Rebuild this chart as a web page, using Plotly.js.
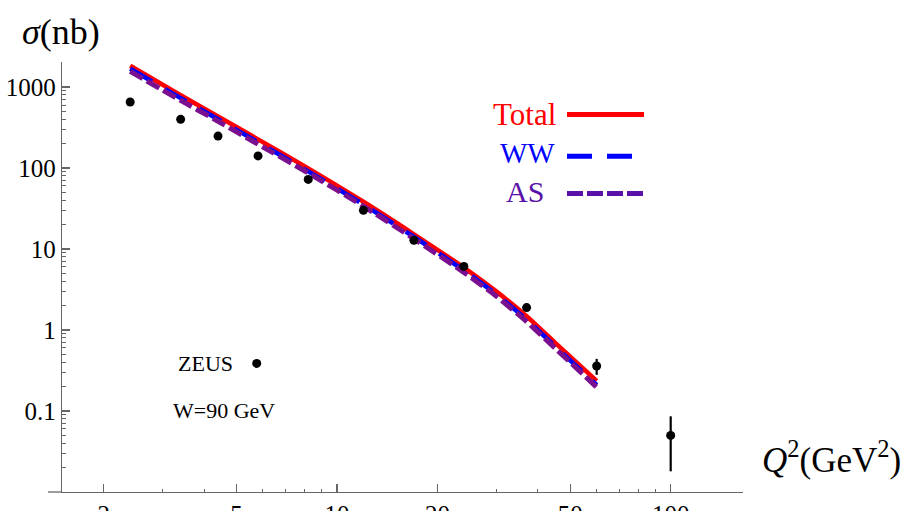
<!DOCTYPE html>
<html>
<head>
<meta charset="utf-8">
<script src="https://cdn.plot.ly/plotly-3.0.1.min.js"></script>
<style>html,body{margin:0;padding:0;background:#fff;}#chart{width:908px;height:511px;}</style>
</head>
<body>
<div id="chart"></div>
<script>
// ZEUS data, W = 90 GeV
const zeusQ2 = [2.4, 3.4, 4.4, 5.8, 8.2, 12, 17, 24, 37, 60, 100];
const zeusSigma = [653, 399, 248, 141, 72.4, 30.0, 12.8, 6.1, 1.89, 0.36, 0.050];
const zeusErrPlus = [20, 12, 8, 5, 2.5, 1, 0.5, 0.3, 0.15, 0.08, 0.036];
const zeusErrMinus = [20, 12, 8, 5, 2.5, 1, 0.5, 0.3, 0.15, 0.08, 0.032];

// model curves
const curveQ2 = [2.4, 3.4, 4.4, 5.8, 8.2, 12, 17, 24, 30, 37, 45, 60];
const totalSigma = [1830, 792, 434, 226, 99, 38.3, 15.2, 5.9, 3.0, 1.48, 0.70, 0.235];
const wwSigma = [1680, 730, 400, 208, 91, 35.5, 14.1, 5.45, 2.76, 1.34, 0.63, 0.210];
const asSigma = [1560, 685, 378, 197, 87, 33.8, 13.4, 5.15, 2.62, 1.27, 0.60, 0.197];

// tick labels
const xTickVals = [2, 5, 10, 20, 50, 100];
const xTickText = ['2', '5', '10', '20', '50', '100'];
const yTickVals = [0.1, 1, 10, 100, 1000];
const yTickText = ['0.1', '1', '10', '100', '1000'];

function minorTicks(decades) {
  const out = [];
  decades.forEach(d => { for (let k = 2; k <= 9; k++) out.push(k * d); });
  return out;
}

const FONT = 'Liberation Serif, Times New Roman, serif';
const AXC = '#666666';

const traces = [
  {x: curveQ2, y: totalSigma, mode: 'lines', line: {color: '#ff0000', width: 4.5, shape: 'spline', smoothing: 0.6}, name: 'Total'},
  {x: curveQ2, y: wwSigma, mode: 'lines', line: {color: '#0000ff', width: 4.5, dash: '25px,15px', shape: 'spline', smoothing: 0.6}, name: 'WW'},
  {x: curveQ2, y: asSigma, mode: 'lines', line: {color: '#7a1090', width: 5, dash: '14px,5px', shape: 'spline', smoothing: 0.6}, name: 'AS'},
  {x: zeusQ2, y: zeusSigma, mode: 'markers', marker: {color: '#000', size: 9},
   error_y: {type: 'data', array: zeusErrPlus, arrayminus: zeusErrMinus, color: '#000', thickness: 2.2, width: 0},
   name: 'ZEUS'}
];

const pw = 681, ph = 430.3;
function px(p) { return (p - 62) / pw; }
function py(p) { return (492 - p) / ph; }

const layout = {
  width: 908, height: 511,
  margin: {l: 62, r: 165, t: 62, b: 19},
  paper_bgcolor: '#fff', plot_bgcolor: '#fff',
  showlegend: false,
  font: {family: FONT, color: '#000', size: 21},
  xaxis: {
    type: 'log', range: [0.1759, 2.2167],
    showgrid: false, zeroline: false,
    showline: true, linecolor: AXC, linewidth: 1.3,
    ticks: 'inside', ticklen: 8, tickwidth: 1.3, tickcolor: AXC,
    tickmode: 'array', tickvals: xTickVals, ticktext: xTickText,
    tickfont: {family: FONT, size: 25, color: '#000'},
    minor: {ticks: 'inside', ticklen: 3, tickwidth: 1, tickcolor: AXC, tickmode: 'array',
            tickvals: minorTicks([1, 10, 100]).filter(v => [2,5,20,50,200].indexOf(v) < 0), showgrid: false}
  },
  yaxis: {
    type: 'log', range: [-2.0, 3.309],
    showgrid: false, zeroline: false,
    showline: true, linecolor: AXC, linewidth: 1.3,
    ticks: 'inside', ticklen: 8, tickwidth: 1.3, tickcolor: AXC,
    tickmode: 'array', tickvals: yTickVals, ticktext: yTickText,
    tickfont: {family: FONT, size: 25, color: '#000'},
    minor: {ticks: 'inside', ticklen: 4, tickwidth: 1, tickcolor: AXC, tickmode: 'array',
            tickvals: minorTicks([0.01, 0.1, 1, 10, 100, 1000]), showgrid: false}
  },
  shapes: [
    {type: 'line', xref: 'paper', yref: 'paper', x0: px(48), x1: 0, y0: 0, y1: 0, line: {color: AXC, width: 1.3}},
    {type: 'line', xref: 'paper', yref: 'paper', x0: px(567), x1: px(644), y0: py(114.3), y1: py(114.3), line: {color: '#ff0000', width: 5}},
    {type: 'line', xref: 'paper', yref: 'paper', x0: px(567), x1: px(634), y0: py(156), y1: py(156), line: {color: '#0000ff', width: 5, dash: '25px,15px'}},
    {type: 'line', xref: 'paper', yref: 'paper', x0: px(567), x1: px(644), y0: py(193.3), y1: py(193.3), line: {color: '#5a12a8', width: 5, dash: '16px,4px'}},
    {type: 'circle', xref: 'paper', yref: 'paper', xsizemode: 'pixel', ysizemode: 'pixel',
     xanchor: px(256.7), yanchor: py(363.3), x0: -4.5, x1: 4.5, y0: -4.5, y1: 4.5,
     fillcolor: '#000', line: {width: 0}}
  ],
  annotations: [
    {xref: 'paper', yref: 'paper', x: px(20), y: py(32), xanchor: 'left', yanchor: 'middle', showarrow: false,
     text: '<i>σ</i>(nb)', font: {family: FONT, size: 36, color: '#000'}},
    {xref: 'paper', yref: 'paper', x: px(760), y: py(457), xanchor: 'left', yanchor: 'middle', showarrow: false,
     text: '<i>Q</i><sup>2</sup>(GeV<sup>2</sup>)', font: {family: FONT, size: 35, color: '#000'}},
    {xref: 'paper', yref: 'paper', x: px(524), y: py(114), xanchor: 'center', yanchor: 'middle', showarrow: false,
     text: 'Total', font: {family: FONT, size: 31, color: '#ff0000'}},
    {xref: 'paper', yref: 'paper', x: px(527), y: py(152.5), xanchor: 'center', yanchor: 'middle', showarrow: false,
     text: 'WW', font: {family: FONT, size: 29, color: '#0000ff'}},
    {xref: 'paper', yref: 'paper', x: px(524.5), y: py(191.7), xanchor: 'center', yanchor: 'middle', showarrow: false,
     text: 'AS', font: {family: FONT, size: 30, color: '#5a12a8'}},
    {xref: 'paper', yref: 'paper', x: px(176), y: py(363.7), xanchor: 'left', yanchor: 'middle', showarrow: false,
     text: 'ZEUS', font: {family: FONT, size: 22, color: '#000'}},
    {xref: 'paper', yref: 'paper', x: px(171), y: py(410.7), xanchor: 'left', yanchor: 'middle', showarrow: false,
     text: 'W=90 GeV', font: {family: FONT, size: 22, color: '#000'}}
  ]
};

Plotly.newPlot('chart', traces, layout, {displayModeBar: false, staticPlot: true});
</script>
</body>
</html>
